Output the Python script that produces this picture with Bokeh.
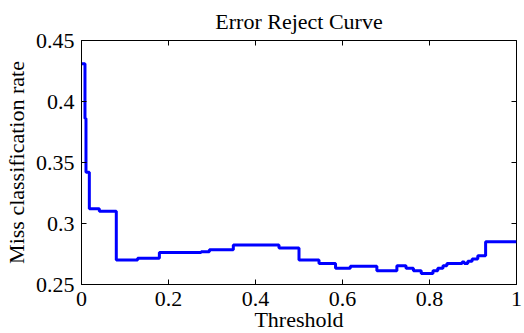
from bokeh.plotting import figure
from bokeh.models import FixedTicker, LinearAxis, Range1d, CustomJSTickFormatter
from bokeh.embed import file_html
from bokeh.resources import INLINE

# Step curve: threshold change points and miss-classification rate after each
threshold = [0.0, 0.008, 0.0103, 0.018, 0.041, 0.080, 0.129, 0.179, 0.275, 0.294,
             0.349, 0.454, 0.500, 0.546, 0.584, 0.618, 0.679, 0.725, 0.746, 0.763,
             0.781, 0.808, 0.819, 0.831, 0.840, 0.875, 0.880, 0.888, 0.898, 0.911,
             0.929, 1.0]
miss_rate = [0.431, 0.386, 0.342, 0.312, 0.310, 0.270, 0.2716, 0.2762, 0.2768, 0.2784,
             0.2823, 0.280, 0.270, 0.2672, 0.2634, 0.265, 0.2612, 0.2653, 0.2634, 0.2612,
             0.259, 0.2612, 0.2634, 0.2653, 0.2672, 0.2685, 0.2672, 0.2690, 0.2708, 0.2735,
             0.285, 0.285]

x_ticks = [0, 0.2, 0.4, 0.6, 0.8, 1.0]
x_tick_labels = ["0", "0.2", "0.4", "0.6", "0.8", "1"]
y_ticks = [0.25, 0.3, 0.35, 0.4, 0.45]
y_tick_labels = ["0.25", "0.3", "0.35", "0.4", "0.45"]

FONT = "Liberation Serif"
FS = "22px"

LABEL_JS = """
for (let i = 0; i < tvals.length; i++) {
    if (Math.abs(tvals[i] - tick) < 1e-9) { return tlabels[i]; }
}
return '';
"""

p = figure(frame_width=435, frame_height=244, output_backend="svg", toolbar_location=None,
           x_range=Range1d(0, 1), y_range=Range1d(0.25, 0.45),
           title="Error Reject Curve",
           min_border_left=74, min_border_right=7, min_border_top=0, min_border_bottom=0)

p.step(threshold, miss_rate, mode="after", line_color="#0000ff", line_width=3)

p.xgrid.visible = False
p.ygrid.visible = False
p.outline_line_color = "black"
p.outline_line_width = 1
p.background_fill_color = "white"
p.border_fill_color = "white"

p.title.align = "center"
p.title.text_font = FONT
p.title.text_font_size = FS
p.title.text_font_style = "normal"
p.title.text_color = "black"
p.title.standoff = 13

for ax, ticks, labels in ((p.xaxis[0], x_ticks, x_tick_labels), (p.yaxis[0], y_ticks, y_tick_labels)):
    ax.ticker = FixedTicker(ticks=ticks)
    ax.formatter = CustomJSTickFormatter(args=dict(tvals=ticks, tlabels=labels), code=LABEL_JS)
    ax.major_label_text_font = FONT
    ax.major_label_text_font_size = FS
    ax.major_label_text_color = "black"
    ax.axis_label_text_font = FONT
    ax.axis_label_text_font_size = FS
    ax.axis_label_text_font_style = "normal"
    ax.axis_label_text_color = "black"
    ax.major_tick_in = 5
    ax.major_tick_out = 0
    ax.minor_tick_in = 0
    ax.minor_tick_out = 0
    ax.axis_line_color = "black"
    ax.major_tick_line_color = "black"

p.xaxis[0].axis_label = "Threshold"
p.yaxis[0].axis_label = "Miss classification rate"
p.xaxis[0].major_label_standoff = 7
p.xaxis[0].axis_label_standoff = -2
p.yaxis[0].major_label_standoff = 7
p.yaxis[0].axis_label_standoff = 4

empty = dict(tvals=[], tlabels=[])
top = LinearAxis(ticker=FixedTicker(ticks=x_ticks),
                 formatter=CustomJSTickFormatter(args=empty, code=LABEL_JS),
                 major_tick_in=5, major_tick_out=0, minor_tick_in=0, minor_tick_out=0,
                 axis_line_color=None, major_label_standoff=0)
right = LinearAxis(ticker=FixedTicker(ticks=y_ticks),
                   formatter=CustomJSTickFormatter(args=empty, code=LABEL_JS),
                   major_tick_in=5, major_tick_out=0, minor_tick_in=0, minor_tick_out=0,
                   axis_line_color=None, major_label_standoff=0)
p.add_layout(top, "above")
p.add_layout(right, "right")

open("out.html", "w").write(file_html(p, INLINE))
